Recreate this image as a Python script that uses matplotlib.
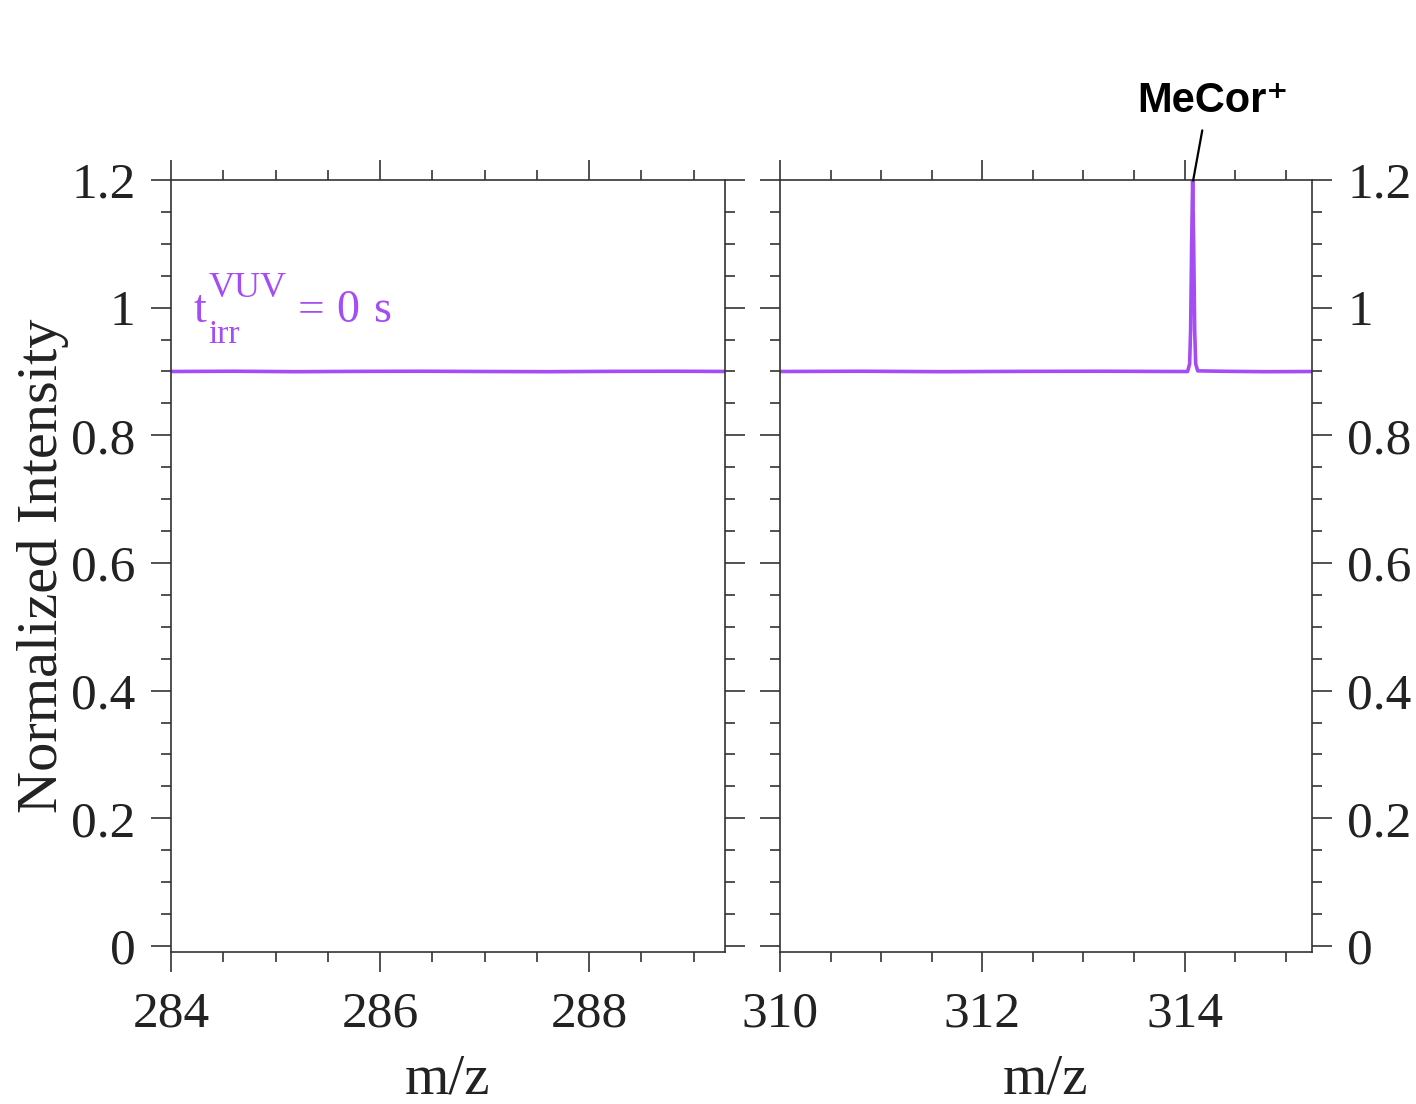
import numpy as np
import matplotlib
matplotlib.use('Agg')
matplotlib.rcParams['font.family'] = 'serif'
matplotlib.rcParams['font.serif'] = ['Liberation Serif', 'DejaVu Serif']
import matplotlib.pyplot as plt

# spectrum, left window (flat baseline)
mz_left = [284.0, 284.6, 285.2, 285.8, 286.4, 287.0, 287.6, 288.2, 288.8, 289.4]
int_left = [0.900, 0.9004, 0.8997, 0.9002, 0.9004, 0.9000, 0.8997, 0.9002, 0.9004, 0.9000]

# spectrum, right window (baseline + MeCor+ peak)
mz_right = [310.0, 310.8, 311.6, 312.4, 313.2, 313.9, 314.03, 314.05, 314.06,
            314.07, 314.08, 314.09, 314.10, 314.11, 314.13, 314.4, 314.8, 315.3]
int_right = [0.900, 0.9004, 0.8997, 0.9002, 0.9004, 0.900, 0.900, 0.912, 0.965,
             1.10, 1.20, 1.10, 0.965, 0.912, 0.901, 0.9003, 0.8997, 0.900]

ytick_labels = ['0', '0.2', '0.4', '0.6', '0.8', '1', '1.2']

purple = '#a64cf4'
spine_c = '#333333'
txt_c = '#222222'

W, H = 1416, 1104
fig = plt.figure(figsize=(W/100, H/100), dpi=100)
ax1 = fig.add_axes([171/W, 1-952/H, (725-171)/W, (952-180)/H])
ax2 = fig.add_axes([780/W, 1-952/H, (1312-780)/W, (952-180)/H])

for ax in (ax1, ax2):
    for s in ax.spines.values():
        s.set_color(spine_c)
        s.set_linewidth(1.2)
    ax.set_ylim(-0.0094, 1.2)
    ax.set_yticks([0, 0.2, 0.4, 0.6, 0.8, 1.0, 1.2])
    ax.set_yticks(np.arange(0, 1.21, 0.05), minor=True)
    ax.set_yticklabels(ytick_labels)
    ax.tick_params(which='both', direction='out', top=True, bottom=True,
                   left=True, right=True, color=spine_c, width=1.2,
                   labelsize=37, labelcolor=txt_c)
    ax.tick_params(axis='y', pad=11)
    ax.tick_params(axis='x', pad=14)
    ax.tick_params(which='major', length=14.4)
    ax.tick_params(which='minor', length=7.2)
    ax.set_xlabel('m/z', fontsize=41, labelpad=11, color=txt_c)

ax1.set_xlim(284, 289.3)
ax1.set_xticks([284, 286, 288])
ax1.set_xticks(np.arange(284, 289.3, 0.5), minor=True)
ax1.set_ylabel('Normalized Intensity', fontsize=42, labelpad=2, color=txt_c)

ax2.set_xlim(310, 315.26)
ax2.set_xticks([310, 312, 314])
ax2.set_xticks(np.arange(310, 315.26, 0.5), minor=True)
ax2.tick_params(labelleft=False, labelright=True)

ax1.plot(mz_left, int_left, color=purple, lw=2.6)
ax2.plot(mz_right, int_right, color=purple, lw=2.6)

# t_irr^VUV = 0 s, built from pieces so the scripts keep full size
fig.text(194/W, 1-322/H, 't', color=purple, fontsize=33, va='baseline')
fig.text(209/W, 1-297/H, 'VUV', color=purple, fontsize=26, va='baseline')
fig.text(208/W, 1-343/H, 'irr', color=purple, fontsize=24, va='baseline')
fig.text(298/W, 1-322/H, '=', color=purple, fontsize=34, va='baseline')
fig.text(336/W, 1-322/H, '0', color=purple, fontsize=33, va='baseline')
fig.text(373/W, 1-322/H, 's', color=purple, fontsize=33, va='baseline')

ax2.annotate('', xy=(314.08, 1.195), xytext=(314.18, 1.282),
             arrowprops=dict(arrowstyle='-', lw=1.6, color='k'),
             annotation_clip=False)
ax2.text(314.28, 1.306, 'MeCor\u207a', fontsize=30, fontweight='bold',
         family=['Liberation Sans', 'DejaVu Sans'], ha='center', va='baseline')

plt.savefig('out.png', dpi=100)
